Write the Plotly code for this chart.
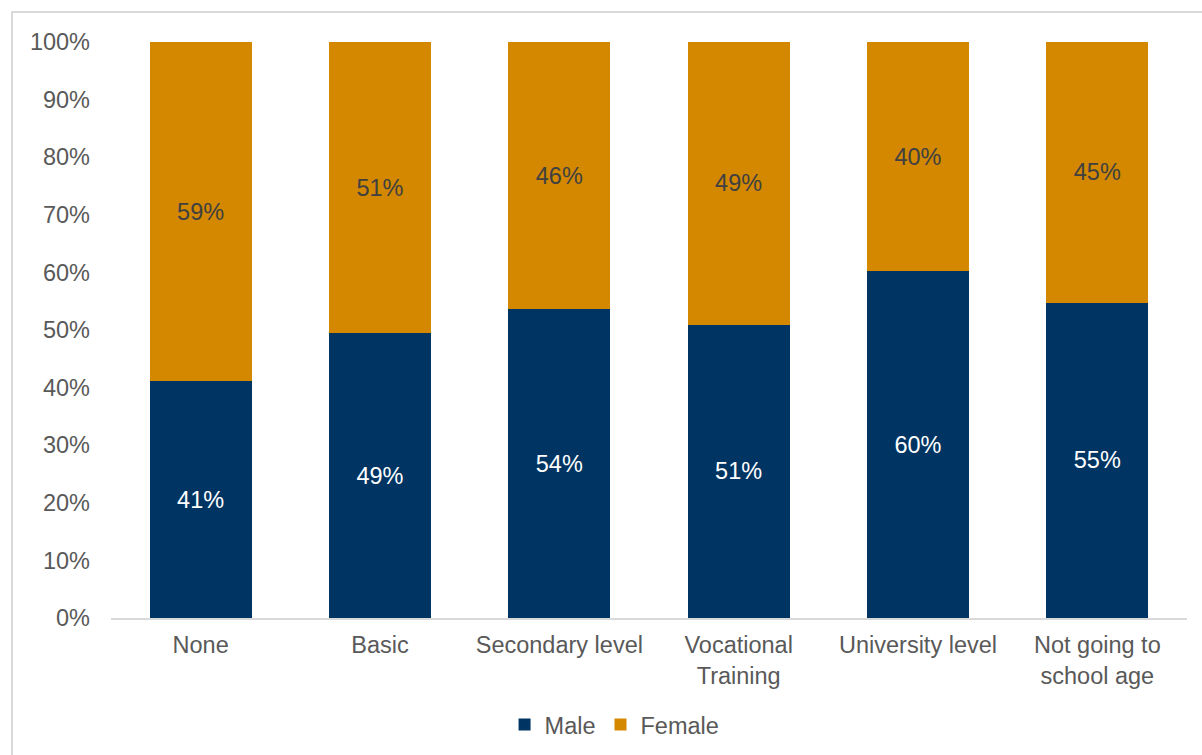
import plotly.graph_objects as go

categories = ["None", "Basic", "Secondary level", "Vocational<br>Training",
              "University level", "Not going to<br>school age"]
male = [41.1, 49.4, 53.6, 50.9, 60.2, 54.7]
female = [58.9, 50.6, 46.4, 49.1, 39.8, 45.3]
tick_vals = [0, 10, 20, 30, 40, 50, 60, 70, 80, 90, 100]
tick_text = [f"{v}%" for v in tick_vals]

FONT = "Liberation Sans, Arial, sans-serif"
FS = 23.5

fig = go.Figure()
fig.add_trace(go.Bar(
    x=categories, y=male, name="Male",
    marker=dict(color="#003462", line=dict(width=0)),
    texttemplate="%{y:.0f}%", textposition="inside", insidetextanchor="middle",
    textfont=dict(color="white", size=FS, family=FONT),
    width=0.57,
))
fig.add_trace(go.Bar(
    x=categories, y=female, name="Female",
    marker=dict(color="#D38800", line=dict(width=0)),
    texttemplate="%{y:.0f}%", textposition="inside", insidetextanchor="middle",
    textfont=dict(color="#404040", size=FS, family=FONT),
    width=0.57,
))

fig.update_layout(
    barmode="stack",
    width=1202, height=755,
    margin=dict(l=111, r=15, t=42, b=137, autoexpand=False),
    paper_bgcolor="white", plot_bgcolor="white",
    font=dict(family=FONT, size=FS, color="#595959"),
    showlegend=True,
    legend=dict(orientation="h", x=0.468, xanchor="center", y=-0.147, yanchor="top",
                font=dict(size=FS, color="#595959"), itemwidth=30,
                traceorder="normal"),
    xaxis=dict(showline=True, linecolor="#D9D9D9", linewidth=2, ticks="",
               tickfont=dict(size=FS, color="#595959"), showgrid=False,
               ticklabelstandoff=5, automargin=False),
    yaxis=dict(range=[0, 100], tickvals=tick_vals, ticktext=tick_text,
               showgrid=False, zeroline=False, showline=False, automargin=False,
               tickfont=dict(size=FS, color="#595959"), ticklabelstandoff=20),
    shapes=[dict(type="rect", xref="paper", yref="paper",
                 x0=-0.092, x1=1.03, y0=-0.25, y1=1.052,
                 line=dict(color="#D9D9D9", width=2), fillcolor="rgba(0,0,0,0)",
                 layer="below")],
)

fig.write_html("out.html", config={"displayModeBar": False},
               post_script="document.body.style.margin='0';")
